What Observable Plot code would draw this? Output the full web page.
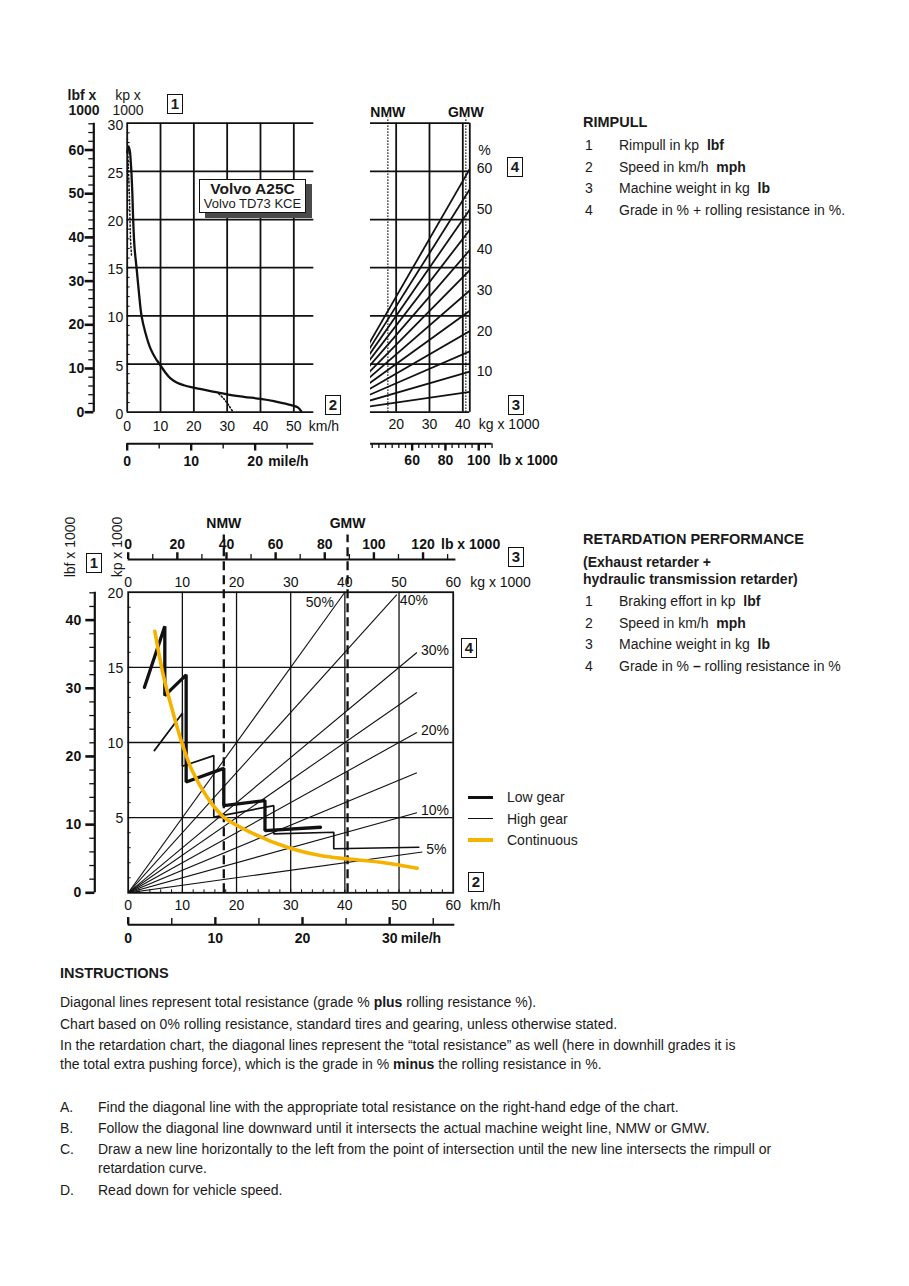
<!DOCTYPE html>
<html>
<head>
<meta charset="utf-8">
<script src="https://cdn.jsdelivr.net/npm/d3@7"></script>
<script src="https://cdn.jsdelivr.net/npm/@observablehq/plot@0.6"></script>
<style>
  html, body { margin: 0; padding: 0; background: #fff; }
  #page { position: relative; width: 909px; height: 1286px; overflow: hidden;
    font-family: "Liberation Sans", Arial, Helvetica, sans-serif; color: #1a1a1a; font-size: 14px; }
  .t { position: absolute; white-space: nowrap; line-height: 16px; }
  .b { font-weight: bold; }
  .c { text-align: center; width: 40px; }
  .rot { transform: translate(-50%, -50%) rotate(-90deg); }
  .box { position: absolute; box-sizing: border-box; border: 1.6px solid #111; background: #fff;
    font-weight: bold; font-size: 15px; text-align: center; width: 16px; height: 20px; line-height: 17px; z-index: 5; }
  .lg { position: absolute; left: 468px; width: 25px; }
  .volvo { position: absolute; left: 199px; top: 179px; width: 107px; height: 34px; box-sizing: border-box; z-index: 5;
    border: 1.5px solid #111; background: #fff; box-shadow: 6px 5px 0 #4a4a4a; text-align: center; }
</style>
</head>
<body>
<div id="page">
  <!-- rimpull header -->
  <div class="t c b" style="left:62px;top:87px">lbf x</div>
  <div class="t c b" style="left:64px;top:102px">1000</div>
  <div class="t c" style="left:108px;top:87px">kp x</div>
  <div class="t c" style="left:108px;top:102px">1000</div>
  <div class="box" style="left:167px;top:94px">1</div>
  <div class="box" style="left:325px;top:395px">2</div>
  <div class="box" style="left:507px;top:157px">4</div>
  <div class="box" style="left:508px;top:395px">3</div>
  <div class="volvo">
    <div style="font-weight:bold;font-size:15.5px;line-height:17px;margin-top:0px">Volvo A25C</div>
    <div style="font-size:13px;line-height:14px">Volvo TD73 KCE</div>
  </div>

  <!-- retardation chart annotations -->
  <div class="t rot" style="left:70px;top:547px">lbf x 1000</div>
  <div class="t rot" style="left:117px;top:547px">kp x 1000</div>
  <div class="box" style="left:86px;top:553px">1</div>
  <div class="box" style="left:508px;top:547px">3</div>
  <div class="box" style="left:461px;top:638px">4</div>
  <div class="box" style="left:468px;top:872px">2</div>
  <div class="lg" style="top:795.5px;height:3.6px;background:#111"></div>
  <div class="lg" style="top:817.5px;height:1.7px;background:#111"></div>
  <div class="lg" style="top:837.5px;height:4px;background:#F5B300"></div>
  <div class="t" style="left:507px;top:789px">Low gear</div>
  <div class="t" style="left:507px;top:810.5px">High gear</div>
  <div class="t" style="left:507px;top:831.5px">Continuous</div>

  <!-- RIMPULL text -->
  <div class="t b" style="left:583px;top:114px;font-size:14.5px">RIMPULL</div>
  <div class="t" style="left:585px;top:137px">1</div><div class="t" style="left:619px;top:137px">Rimpull in kp&nbsp; <b>lbf</b></div>
  <div class="t" style="left:585px;top:159px">2</div><div class="t" style="left:619px;top:159px">Speed in km/h&nbsp; <b>mph</b></div>
  <div class="t" style="left:585px;top:180px">3</div><div class="t" style="left:619px;top:180px">Machine weight in kg&nbsp; <b>lb</b></div>
  <div class="t" style="left:585px;top:202px">4</div><div class="t" style="left:619px;top:202px">Grade in % + rolling resistance in %.</div>

  <!-- RETARDATION text -->
  <div class="t b" style="left:583px;top:531px;font-size:14.5px">RETARDATION PERFORMANCE</div>
  <div class="t b" style="left:583px;top:554px">(Exhaust retarder +</div>
  <div class="t b" style="left:583px;top:571px">hydraulic transmission retarder)</div>
  <div class="t" style="left:585px;top:593px">1</div><div class="t" style="left:619px;top:593px">Braking effort in kp&nbsp; <b>lbf</b></div>
  <div class="t" style="left:585px;top:614.5px">2</div><div class="t" style="left:619px;top:614.5px">Speed in km/h&nbsp; <b>mph</b></div>
  <div class="t" style="left:585px;top:636px">3</div><div class="t" style="left:619px;top:636px">Machine weight in kg&nbsp; <b>lb</b></div>
  <div class="t" style="left:585px;top:657.5px">4</div><div class="t" style="left:619px;top:657.5px">Grade in % <b>–</b> rolling resistance in %</div>

  <!-- INSTRUCTIONS -->
  <div class="t b" style="left:60px;top:965px;font-size:14.5px">INSTRUCTIONS</div>
  <div class="t" style="left:60px;top:994px">Diagonal lines represent total resistance (grade % <b>plus</b> rolling resistance %).</div>
  <div class="t" style="left:60px;top:1016px">Chart based on 0% rolling resistance, standard tires and gearing, unless otherwise stated.</div>
  <div class="t" style="left:60px;top:1037px">In the retardation chart, the diagonal lines represent the “total resistance” as well (here in downhill grades it is</div>
  <div class="t" style="left:60px;top:1056px">the total extra pushing force), which is the grade in % <b>minus</b> the rolling resistance in %.</div>
  <div class="t" style="left:60px;top:1099px">A.</div><div class="t" style="left:98px;top:1099px">Find the diagonal line with the appropriate total resistance on the right-hand edge of the chart.</div>
  <div class="t" style="left:60px;top:1120px">B.</div><div class="t" style="left:98px;top:1120px">Follow the diagonal line downward until it intersects the actual machine weight line, NMW or GMW.</div>
  <div class="t" style="left:60px;top:1141px">C.</div><div class="t" style="left:98px;top:1141px">Draw a new line horizontally to the left from the point of intersection until the new line intersects the rimpull or</div>
  <div class="t" style="left:98px;top:1160px">retardation curve.</div>
  <div class="t" style="left:60px;top:1182px">D.</div><div class="t" style="left:98px;top:1182px">Read down for vehicle speed.</div>
</div>
<script>
// ====================== DATA ======================
// --- Rimpull chart: speed (km/h) vs rimpull (kp x 1000)
const rimpullSpeed = [0, 0.4, 0.8, 1.1, 1.3, 1.55, 1.8, 2.2, 2.8, 3.5, 4.3, 5.5, 7, 8.5, 9.7, 11.5, 13, 15, 17, 20, 25, 30, 35, 40, 44, 47, 49.5, 51.2, 52.2];
const rimpullForce = [27.0, 27.6, 27.1, 25.8, 24.7, 22.7, 19.9, 17.1, 15.0, 12.5, 10.0, 8.2, 6.6, 5.6, 5.0, 4.1, 3.5, 3.05, 2.8, 2.55, 2.2, 1.85, 1.6, 1.38, 1.15, 0.92, 0.7, 0.5, 0.1];
const rimpullDotTopSpeed = [0.05, 0.35, 0.7, 1.0, 1.3];
const rimpullDotTopForce = [28.4, 25.5, 22.0, 18.0, 16.2];
const rimpullDotLowSpeed = [27.5, 29.0, 30.5, 31.8];
const rimpullDotLowForce = [1.91, 1.39, 0.7, 0.0];
const rimpullKpTicks = [0, 5, 10, 15, 20, 25, 30];
const rimpullLbfTicks = [0, 10, 20, 30, 40, 50, 60];
const rimpullSpeedTicks = [0, 10, 20, 30, 40, 50];
const rimpullMphTicks = [0, 10, 20];
const rimpullMphMinor = [5, 15, 25];
const rimpullKmhPerMph = 1.92;      // as printed on this chart's mile/h scale

// --- Machine weight chart (weight t, rimpull kp x 1000)
const gradeLines = [5, 10, 15, 20, 25, 30, 35, 40, 45, 50, 55, 60];
const gradeLabels = [10, 20, 30, 40, 50, 60];
const weightTicksTop = [20, 30, 40];
const weightDomainTop = [12.3, 42.1];
const nmwGmwTop = [17.5, 40.9];
const lbLabelsTop = [60, 80, 100];
const lbOriginTop = [60, 24.8];     // 60 klb printed at 24.8 t
const lbStepTop = 0.4995;           // t per klb on the printed scale

// --- Retardation chart (speed km/h / weight t, braking effort kp x 1000)
const retSpeedTicks = [0, 10, 20, 30, 40, 50, 60];
const retWeightTicks = [0, 10, 20, 30, 40, 50, 60];
const retKpTicks = [5, 10, 15, 20];
const retLbfTicks = [0, 10, 20, 30, 40];
const retMphTicks = [0, 10, 20, 30];
const retMphMinor = [5, 15, 25, 35];
const retLbTicks = [0, 20, 40, 60, 80, 100, 120];
const retLbMinor = [10, 30, 50, 70, 90, 110, 130];
const retGrades = [5, 10, 15, 20, 25, 30, 40, 50];
const retGradeEnds = [54.3, 53.3, 53.3, 53.3, 53.3, 53.3, 49.6, 40];
const retGradeLabelsRight = [5, 10, 20, 30];
const nmwGmwRet = [17.65, 40.5];
const lowGearSpeed = [3.0, 6.76, 6.76, 10.7, 10.7, 17.65, 17.65, 25.25, 25.25, 35.5];
const lowGearForce = [13.67, 17.74, 13.12, 14.5, 7.37, 8.28, 5.8, 6.14, 4.14, 4.36];
const highGearSpeed = [4.82, 10.0, 10.0, 15.8, 15.8, 26.88, 26.88, 37.95, 37.95, 53.65];
const highGearForce = [9.46, 11.94, 8.42, 9.13, 5.03, 5.8, 3.92, 4.03, 2.93, 3.03];
const continuousSpeed = [4.92, 6.57, 9.05, 9.97, 11.8, 14.58, 17.65, 23.19, 29.35, 35.5, 40.3, 46.6, 53.35];
const continuousForce = [17.4, 14.33, 11.0, 9.91, 8.13, 6.36, 5.03, 3.92, 3.03, 2.48, 2.26, 2.03, 1.64];

// ====================== HELPERS ======================
const F = '"Liberation Sans", Arial, Helvetica, sans-serif';
const INK = "#111";
const YEL = "#F5B300";
const KP2LBF = 2.2046;
const MPH2KMH = 1.609;
const LB2T = 0.4536;
const page = document.getElementById("page");
const pairs = (xs, ys) => xs.map((x, i) => ({x, y: ys[i]}));
const baseStyle = {fontFamily: F, fontSize: "14px", background: "transparent", overflow: "visible", color: INK};
function place(svg, left, top) {
  svg.style.position = "absolute";
  svg.style.left = left + "px";
  svg.style.top = top + "px";
  svg.style.maxWidth = "none";
  svg.style.zIndex = "1";
  page.appendChild(svg);
}
const lbT = klb => lbOriginTop[1] + (klb - lbOriginTop[0]) * lbStepTop;

// ====================== CHART 1: RIMPULL ======================
const p1 = Plot.plot({
  width: 360, height: 410,
  marginLeft: 126.7, marginRight: 46.7, marginTop: 52.7, marginBottom: 68.3,
  x: {domain: [0, 56], axis: null},
  y: {domain: [0, 30], axis: null},
  style: baseStyle,
  marks: [
    Plot.ruleY(rimpullKpTicks, {x1: 0, x2: 56, stroke: INK, strokeWidth: 1.8}),
    Plot.ruleX(rimpullSpeedTicks, {y1: 0, y2: 30, stroke: INK, strokeWidth: 1.8}),
    Plot.ruleY(d3.range(1, 30), {x1: 0, x2: 0.9, stroke: INK, strokeWidth: 1}),
    Plot.text(rimpullKpTicks, {x: 0, y: d => d, text: d => String(d), textAnchor: "end", dx: -4, dy: 2, fill: INK}),
    // lbf axis
    Plot.ruleX([0], {y1: 0, y2: 30, dx: -33.4, stroke: INK, strokeWidth: 2.2}),
    Plot.ruleY(d3.range(0, 67, 2), {y: d => d / KP2LBF, x1: -1.5, x2: 0, dx: -33.4, stroke: INK, strokeWidth: 1.3}),
    Plot.ruleY(rimpullLbfTicks, {y: d => d / KP2LBF, x1: -2.6, x2: 0, dx: -33.4, stroke: INK, strokeWidth: 2.6}),
    Plot.text(rimpullLbfTicks, {x: 0, y: d => d / KP2LBF, text: d => String(d), dx: -43, textAnchor: "end", fontWeight: "bold", fill: INK}),
    // km/h labels
    Plot.text(rimpullSpeedTicks, {x: d => d, y: 0, dy: 14, text: d => String(d), fill: INK}),
    Plot.text(["km/h"], {x: 50, y: 0, dy: 14, dx: 15, textAnchor: "start", fill: INK}),
    // mile/h axis
    Plot.ruleY([0], {x1: 0, x2: 56, dy: 31.6, stroke: INK, strokeWidth: 2}),
    Plot.ruleX(rimpullMphTicks, {x: d => d * rimpullKmhPerMph, y1: 0, y2: -0.75, dy: 31.6, stroke: INK, strokeWidth: 2.4}),
    Plot.ruleX(rimpullMphMinor, {x: d => d * rimpullKmhPerMph, y1: 0, y2: -0.55, dy: 31.6, stroke: INK, strokeWidth: 1.4}),
    Plot.text(rimpullMphTicks, {x: d => d * rimpullKmhPerMph, y: 0, dy: 49, text: d => String(d), fontWeight: "bold", fill: INK}),
    Plot.text(["mile/h"], {x: 20 * rimpullKmhPerMph, y: 0, dy: 49, dx: 13, textAnchor: "start", fontWeight: "bold", fill: INK}),
    // curves
    Plot.line(pairs(rimpullDotTopSpeed, rimpullDotTopForce), {x: "x", y: "y", stroke: INK, strokeWidth: 1.5, strokeDasharray: "1.2,2.4", curve: "catmull-rom"}),
    Plot.line(pairs(rimpullDotLowSpeed, rimpullDotLowForce), {x: "x", y: "y", stroke: INK, strokeWidth: 1.6, strokeDasharray: "1.2,2.2", curve: "catmull-rom"}),
    Plot.line(pairs(rimpullSpeed, rimpullForce), {x: "x", y: "y", stroke: INK, strokeWidth: 2.3, curve: "catmull-rom"})
  ]
});
place(p1, 0, 70);

// ====================== CHART 2: MACHINE WEIGHT ======================
const wR = weightDomainTop[1];
const p2 = Plot.plot({
  width: 210, height: 410,
  marginLeft: 10, marginRight: 100.7, marginTop: 52.7, marginBottom: 68.3,
  x: {domain: weightDomainTop, axis: null},
  y: {domain: [0, 30], axis: null},
  style: baseStyle,
  marks: [
    Plot.ruleY(rimpullKpTicks, {x1: weightDomainTop[0], x2: wR, stroke: INK, strokeWidth: 1.8}),
    Plot.ruleX([...weightTicksTop, wR], {y1: 0, y2: 30, stroke: INK, strokeWidth: 1.8}),
    Plot.ruleX(nmwGmwTop, {y1: 0, y2: 30.55, stroke: INK, strokeWidth: 1.5, strokeDasharray: "1.2,1.8"}),
    Plot.link(gradeLines, {x1: 0, y1: 0, x2: wR, y2: g => wR * g / 100, stroke: INK, strokeWidth: 1.8, clip: true}),
    Plot.text(gradeLabels, {x: wR, y: g => wR * g / 100, text: d => String(d), dx: 7, textAnchor: "start", fill: INK}),
    Plot.text(["%"], {x: wR, y: 30, dy: 27, dx: 8.5, textAnchor: "start", fill: INK}),
    Plot.text(["NMW", "GMW"], {x: (d, i) => nmwGmwTop[i], y: 30, dy: -10.5, fontWeight: "bold", fill: INK}),
    Plot.text(weightTicksTop, {x: d => d, y: 0, dy: 12, text: d => String(d), fill: INK}),
    Plot.text(["kg x 1000"], {x: 40, y: 0, dy: 12, dx: 16, textAnchor: "start", fill: INK}),
    // lb axis
    Plot.ruleY([0], {x1: lbT(35), x2: lbT(108), dy: 31.6, stroke: INK, strokeWidth: 2}),
    Plot.ruleX(d3.range(36, 109, 4), {x: lbT, y1: 0, y2: -0.5, dy: 31.6, stroke: INK, strokeWidth: 1.3}),
    Plot.ruleX(lbLabelsTop, {x: lbT, y1: 0, y2: -0.75, dy: 31.6, stroke: INK, strokeWidth: 2.4}),
    Plot.text(lbLabelsTop, {x: lbT, y: 0, dy: 48.5, text: d => String(d), fontWeight: "bold", fill: INK}),
    Plot.text(["lb x 1000"], {x: lbT(100), y: 0, dy: 48.5, dx: 20, textAnchor: "start", fontWeight: "bold", fill: INK})
  ]
});
place(p2, 360, 70);

// ====================== CHART 3: RETARDATION ======================
const p3 = Plot.plot({
  width: 590, height: 460,
  marginLeft: 127.7, marginRight: 137.3, marginTop: 91.7, marginBottom: 67.7,
  x: {domain: [0, 60], axis: null},
  y: {domain: [0, 20], axis: null},
  style: baseStyle,
  marks: [
    Plot.ruleX([10, 20, 30, 40, 50], {y1: 0, y2: 20, stroke: INK, strokeWidth: 1.3}),
    Plot.ruleY([5, 10, 15], {x1: 0, x2: 60, stroke: INK, strokeWidth: 1.3}),
    Plot.ruleY(d3.range(1, 20), {x1: 0, x2: 0.55, stroke: INK, strokeWidth: 1}),
    Plot.ruleX(d3.range(2, 60, 2), {y1: 0, y2: 0.2, stroke: INK, strokeWidth: 1}),
    Plot.frame({stroke: INK, strokeWidth: 1.8}),
    // grade lines
    Plot.link(retGrades, {x1: 0, y1: 0, x2: (g, i) => retGradeEnds[i], y2: (g, i) => retGradeEnds[i] * g / 100, stroke: INK, strokeWidth: 1.1, clip: true}),
    Plot.text(retGradeLabelsRight, {x: g => retGradeEnds[retGrades.indexOf(g)], y: g => retGradeEnds[retGrades.indexOf(g)] * g / 100, text: d => d + "%", dx: 4, dy: -2, textAnchor: "start", fill: INK}),
    Plot.text([40], {x: g => retGradeEnds[retGrades.indexOf(g)], y: g => retGradeEnds[retGrades.indexOf(g)] * g / 100, text: d => d + "%", dx: 3, dy: 6, textAnchor: "start", fill: INK}),
    Plot.text([50], {x: g => retGradeEnds[retGrades.indexOf(g)], y: g => retGradeEnds[retGrades.indexOf(g)] * g / 100, text: d => d + "%", dx: -11, dy: 10, textAnchor: "end", fill: INK}),
    // NMW / GMW
    Plot.ruleX(nmwGmwRet, {y1: 0, y2: 23.8, stroke: INK, strokeWidth: 2.3, strokeDasharray: "9,5"}),
    Plot.text(["NMW", "GMW"], {x: (d, i) => nmwGmwRet[i], y: 20, dy: -68.5, fontWeight: "bold", fill: INK}),
    // kp axis labels
    Plot.text(retKpTicks, {x: 0, y: d => d, text: d => String(d), textAnchor: "end", dx: -5, dy: 1, fill: INK}),
    // lbf axis
    Plot.ruleX([0], {y1: 0, y2: 20, dx: -33.4, stroke: INK, strokeWidth: 2.2}),
    Plot.ruleY(d3.range(0, 45, 2), {y: d => d / KP2LBF, x1: -0.92, x2: 0, dx: -33.4, stroke: INK, strokeWidth: 1.3}),
    Plot.ruleY(retLbfTicks, {y: d => d / KP2LBF, x1: -1.66, x2: 0, dx: -33.4, stroke: INK, strokeWidth: 2.6}),
    Plot.text(retLbfTicks, {x: 0, y: d => d / KP2LBF, text: d => String(d), dx: -47, textAnchor: "end", fontWeight: "bold", fill: INK}),
    // kg axis on top
    Plot.text(retWeightTicks, {x: d => d, y: 20, dy: -9.5, text: d => String(d), fill: INK}),
    Plot.text(["kg x 1000"], {x: 60, y: 20, dy: -9.5, dx: 17, textAnchor: "start", fill: INK}),
    // lb axis on top
    Plot.ruleY([20], {x1: 0, x2: 60.5, dy: -32.7, stroke: INK, strokeWidth: 2}),
    Plot.ruleX(retLbMinor, {x: d => d * LB2T, y1: 20, y2: 20.33, dy: -32.7, stroke: INK, strokeWidth: 1.3}),
    Plot.ruleX(retLbTicks, {x: d => d * LB2T, y1: 20, y2: 20.45, dy: -32.7, stroke: INK, strokeWidth: 2.4}),
    Plot.text(retLbTicks, {x: d => d * LB2T, y: 20, dy: -47.7, text: d => String(d), fontWeight: "bold", fill: INK}),
    Plot.text(["lb x 1000"], {x: 120 * LB2T, y: 20, dy: -47.7, dx: 18, textAnchor: "start", fontWeight: "bold", fill: INK}),
    // km/h labels
    Plot.text(retSpeedTicks, {x: d => d, y: 0, dy: 13, text: d => String(d), fill: INK}),
    Plot.text(["km/h"], {x: 60, y: 0, dy: 13, dx: 17, textAnchor: "start", fill: INK}),
    // mile/h axis
    Plot.ruleY([0], {x1: 0, x2: 60.3, dy: 32, stroke: INK, strokeWidth: 2}),
    Plot.ruleX(retMphTicks, {x: d => d * MPH2KMH, y1: 0, y2: 0.48, dy: 32, stroke: INK, strokeWidth: 2.4}),
    Plot.ruleX(retMphMinor, {x: d => d * MPH2KMH, y1: 0, y2: 0.42, dy: 32, stroke: INK, strokeWidth: 1.4}),
    Plot.text(retMphTicks, {x: d => d * MPH2KMH, y: 0, dy: 46, text: d => String(d), fontWeight: "bold", fill: INK}),
    Plot.text(["mile/h"], {x: 30 * MPH2KMH, y: 0, dy: 46, dx: 11, textAnchor: "start", fontWeight: "bold", fill: INK}),
    // curves
    Plot.line(pairs(highGearSpeed, highGearForce), {x: "x", y: "y", stroke: INK, strokeWidth: 1.7, strokeLinejoin: "miter"}),
    Plot.line(pairs(lowGearSpeed, lowGearForce), {x: "x", y: "y", stroke: INK, strokeWidth: 3.3, strokeLinejoin: "miter"}),
    Plot.line(pairs(continuousSpeed, continuousForce), {x: "x", y: "y", stroke: YEL, strokeWidth: 3.6, curve: "catmull-rom"})
  ]
});
place(p3, 0, 500);
</script>
</body>
</html>
